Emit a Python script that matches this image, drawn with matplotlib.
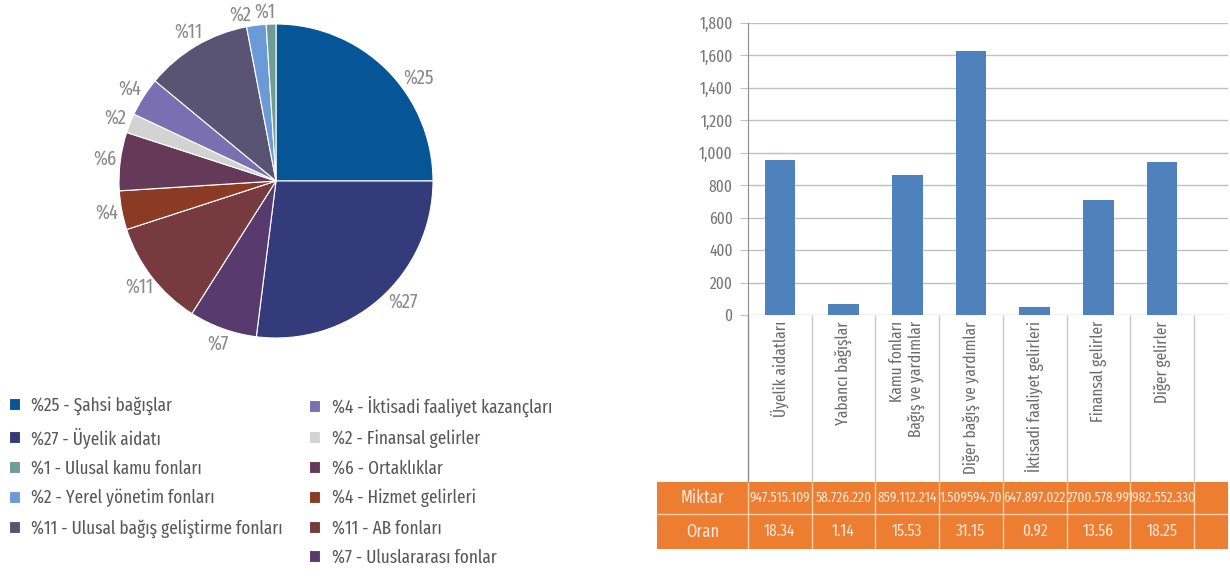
import numpy as np
import matplotlib
matplotlib.use("Agg")
import matplotlib.pyplot as plt
from matplotlib.patches import Rectangle
from matplotlib.ticker import FuncFormatter

plt.rcParams['font.family'] = ['Fira Sans Extra Condensed', 'Barlow Condensed', 'DejaVu Sans']
plt.rcParams['font.weight'] = 'normal'

# === PIE DATA (clockwise from top) ===
pie_names = ["Şahsi bağışlar", "Üyelik aidatı", "Uluslararası fonlar", "AB fonları",
             "Hizmet gelirleri", "Ortaklıklar", "Finansal gelirler",
             "İktisadi faaliyet kazançları", "Ulusal bağış geliştirme fonları",
             "Yerel yönetim fonları", "Ulusal kamu fonları"]
pie_values = [25, 27, 7, 11, 4, 6, 2, 4, 11, 2, 1]
pie_colors = ["#065596", "#333b7b", "#583a6f", "#773a3e", "#8b3b24", "#653a58",
              "#d3d3d3", "#7a6fb0", "#595474", "#6a9bd6", "#6f9c96"]
legend_left = [0, 1, 10, 9, 8]
legend_right = [7, 6, 5, 4, 3, 2]

# === BAR DATA ===
bar_cats = ["Üyelik aidatları", "Yabancı bağışlar", "Kamu fonları\nBağış ve yardımlar",
            "Diğer bağış ve yardımlar", "İktisadi faaliyet gelirleri",
            "Finansal gelirler", "Diğer gelirler"]
bar_values = [955, 68, 865, 1630, 47, 707, 945]
miktar = ["947.515.109", "58.726.220", "859.112.214", "1.509594.70",
          "647.897.022", "2700.578.99", "1982.552.330"]
oran = ["18.34", "1.14", "15.53", "31.15", "0.92", "13.56", "18.25"]

W, H = 1230, 578
fig = plt.figure(figsize=(W / 100, H / 100), dpi=100)
fig.patch.set_facecolor("white")

# === PIE ===
ax_pie = fig.add_axes([106 / W, (H - 351) / H, 340 / W, 340 / H])
wedges, texts = ax_pie.pie(
    pie_values, colors=pie_colors, startangle=90, counterclock=False,
    labels=["%" + str(v) for v in pie_values], labeldistance=1.1,
    wedgeprops=dict(edgecolor="white", linewidth=0.8),
    textprops=dict(color="#8a8a8a", fontsize=14.5, ha="center", va="center"))
# small angle nudges so labels sit like the original
nudge = {0: -9, 1: 5, 9: 5, 10: 2}
for i, d in nudge.items():
    ang = np.deg2rad((wedges[i].theta1 + wedges[i].theta2) / 2 + d)
    r = 1.12 if i < 2 else 1.08
    texts[i].set_position((r * np.cos(ang), r * np.sin(ang)))
lim = 170 / 157
ax_pie.set_xlim(-lim, lim)
ax_pie.set_ylim(-lim, lim)

# legends
def add_legend(idx, x0, y0):
    leg = fig.legend([wedges[i] for i in idx],
                     ["%" + str(pie_values[i]) + " - " + pie_names[i] for i in idx],
                     loc="upper left", bbox_to_anchor=(x0 / W, 1 - y0 / H),
                     frameon=False, fontsize=13.5, handlelength=0.6, handleheight=0.6,
                     handletextpad=0.6, labelspacing=0.63, borderpad=0, borderaxespad=0,
                     labelcolor="#595959")
    for h in leg.legend_handles:
        h.set_edgecolor("white")
    return leg

add_legend(legend_left, 9, 396)
add_legend(legend_right, 309, 396)

# === BAR CHART ===
cw = 63.7
ax = fig.add_axes([748 / W, (H - 315) / H, 480 / W, 292 / H])
x = np.arange(len(bar_values))
ax.bar(x, bar_values, width=0.48, color="#4f81bd", zorder=3)
ax.set_xlim(-0.5, -0.5 + 480 / cw)
ax.set_ylim(0, 1800)
ax.set_yticks(np.arange(0, 1801, 200))
ax.yaxis.set_major_formatter(FuncFormatter(lambda v, p: f"{v:,.0f}"))
ax.grid(axis="y", color="#c0c0c0", lw=1)
ax.set_axisbelow(True)
for s in ["top", "right", "bottom"]:
    ax.spines[s].set_visible(False)
ax.spines["left"].set_color("#8c8c8c")
ax.tick_params(axis="y", length=6, color="#c0c0c0", labelcolor="#777777",
               labelsize=12, pad=5)
ax.tick_params(axis="x", length=0, labelbottom=False)

trans = ax.get_xaxis_transform()
y_top, y_mid, y_bot = (315 - 482) / 292, (315 - 514) / 292, (315 - 549) / 292
bounds = np.arange(-0.5, len(bar_values), 1.0)

# label area dividers
ax.vlines(bounds[1:], y_top, 0, transform=trans, colors="#c8c8c8", lw=1, clip_on=False)
ax.vlines([bounds[0]], y_top, 0, transform=trans, colors="#8c8c8c", lw=1, clip_on=False)
for i, lab in enumerate(bar_cats):
    ax.text(i, -6 / 292, lab, transform=trans, rotation=90, ha="center", va="top",
            multialignment="right", color="#6d6d6d", fontsize=12, clip_on=False)

# data table
x_left = -0.5 - (748 - 657) / cw
x_right = -0.5 + 480 / cw
ax.add_patch(Rectangle((x_left, y_bot), x_right - x_left, y_top - y_bot,
                       transform=trans, facecolor="#ed7d31", edgecolor="none",
                       clip_on=False, zorder=4))
ax.hlines([y_mid], x_left, x_right, transform=trans, colors="#f7cfa8", lw=1,
          clip_on=False, zorder=5)
ax.vlines(bounds, y_bot, y_top, transform=trans, colors="#f7cfa8", lw=1,
          clip_on=False, zorder=5)
yc1, yc2 = (y_top + y_mid) / 2, (y_mid + y_bot) / 2
lab_x = (x_left + bounds[0]) / 2
ax.text(lab_x, yc1, "Miktar", transform=trans, ha="center", va="center",
        color="#fbe5d6", fontsize=13, clip_on=False, zorder=6)
ax.text(lab_x, yc2, "Oran", transform=trans, ha="center", va="center",
        color="#fbe5d6", fontsize=13, clip_on=False, zorder=6)
for i in range(len(bar_values)):
    ax.text(i, yc1, miktar[i], transform=trans, ha="center", va="center",
            color="#fbe5d6", fontsize=10.5, clip_on=False, zorder=6)
    ax.text(i, yc2, oran[i], transform=trans, ha="center", va="center",
            color="#fbe5d6", fontsize=12, clip_on=False, zorder=6)

plt.savefig("out.png", dpi=100, facecolor="white")
